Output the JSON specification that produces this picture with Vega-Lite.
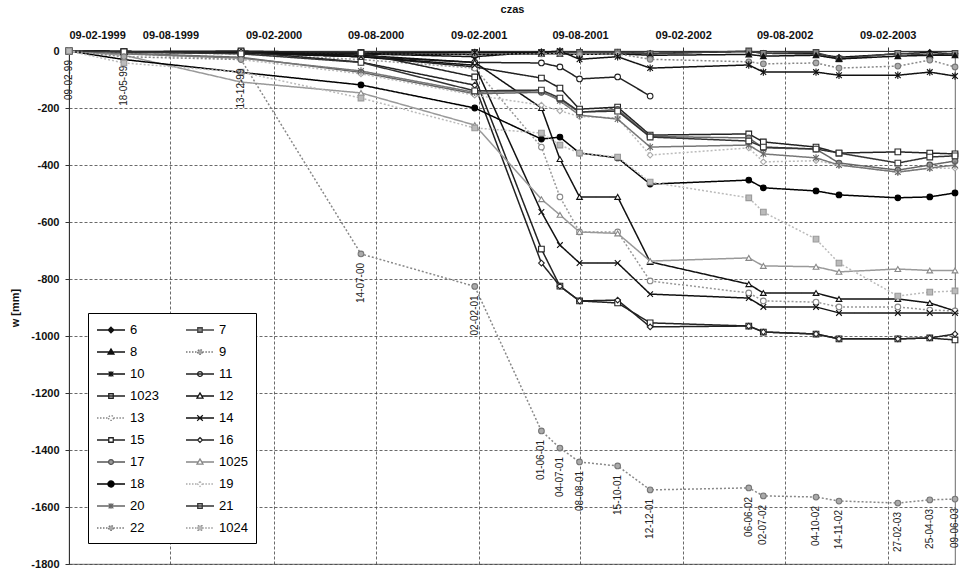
{
"$schema": "https://vega.github.io/schema/vega-lite/v6.json",
"autosize": {"type": "none"},
"width": 886,
"height": 513,
"padding": {"left": 69, "top": 51, "right": 8, "bottom": 7},
"background": "white",
"config": {
  "font": "Liberation Sans",
  "view": {"stroke": "#444", "strokeWidth": 0.8},
  "axis": {"labelFont": "Liberation Sans", "titleFont": "Liberation Sans", "labelColor": "#111", "titleColor": "#111", "labelFontSize": 11, "labelFontWeight": "bold", "titleFontSize": 11, "titleFontWeight": "bold", "grid": true, "gridDash": [3, 2], "gridColor": "#444", "gridWidth": 0.8, "domainColor": "#333", "tickColor": "#333", "tickSize": 4}
},
"data": {"values": [
{"s":"6","d":"1999-02-09","w":0},{"s":"6","d":"1999-05-18","w":-5},{"s":"6","d":"1999-12-13","w":-5},{"s":"6","d":"2000-07-14","w":-10},{"s":"6","d":"2001-02-02","w":-20},{"s":"6","d":"2001-06-01","w":-3},{"s":"6","d":"2001-07-04","w":-2},{"s":"6","d":"2001-08-08","w":-5},{"s":"6","d":"2001-10-15","w":-5},{"s":"6","d":"2001-12-12","w":-8},{"s":"6","d":"2002-06-06","w":-2},{"s":"6","d":"2002-07-02","w":-8},{"s":"6","d":"2002-10-04","w":-10},{"s":"6","d":"2002-11-14","w":-22},{"s":"6","d":"2003-02-27","w":-10},{"s":"6","d":"2003-04-25","w":-5},{"s":"6","d":"2003-06-09","w":-10},
{"s":"7","d":"1999-02-09","w":0},{"s":"7","d":"1999-05-18","w":-3},{"s":"7","d":"1999-12-13","w":-3},{"s":"7","d":"2000-07-14","w":-5},{"s":"7","d":"2001-02-02","w":-5},{"s":"7","d":"2001-06-01","w":-5},{"s":"7","d":"2001-07-04","w":-3},{"s":"7","d":"2001-08-08","w":-5},{"s":"7","d":"2001-10-15","w":-4},{"s":"7","d":"2001-12-12","w":-10},{"s":"7","d":"2002-06-06","w":0},{"s":"7","d":"2002-07-02","w":-8},{"s":"7","d":"2002-10-04","w":-5},{"s":"7","d":"2002-11-14","w":-28},{"s":"7","d":"2003-02-27","w":-8},{"s":"7","d":"2003-04-25","w":-15},{"s":"7","d":"2003-06-09","w":-8},
{"s":"8","d":"1999-02-09","w":0},{"s":"8","d":"1999-05-18","w":-2},{"s":"8","d":"1999-12-13","w":-5},{"s":"8","d":"2000-07-14","w":-10},{"s":"8","d":"2001-02-02","w":-12},{"s":"8","d":"2001-06-01","w":-10},{"s":"8","d":"2001-07-04","w":-10},{"s":"8","d":"2001-08-08","w":-12},{"s":"8","d":"2001-10-15","w":-10},{"s":"8","d":"2001-12-12","w":-15},{"s":"8","d":"2002-06-06","w":-12},{"s":"8","d":"2002-07-02","w":-18},{"s":"8","d":"2002-10-04","w":-15},{"s":"8","d":"2002-11-14","w":-28},{"s":"8","d":"2003-02-27","w":-18},{"s":"8","d":"2003-04-25","w":-15},{"s":"8","d":"2003-06-09","w":-15},
{"s":"9","d":"1999-02-09","w":0},{"s":"9","d":"1999-05-18","w":-3},{"s":"9","d":"1999-12-13","w":-5},{"s":"9","d":"2000-07-14","w":-8},{"s":"9","d":"2001-02-02","w":-10},{"s":"9","d":"2001-06-01","w":-10},{"s":"9","d":"2001-07-04","w":-8},{"s":"9","d":"2001-08-08","w":-12},{"s":"9","d":"2001-10-15","w":-10},{"s":"9","d":"2001-12-12","w":-29},{"s":"9","d":"2002-06-06","w":-38},{"s":"9","d":"2002-07-02","w":-45},{"s":"9","d":"2002-10-04","w":-42},{"s":"9","d":"2002-11-14","w":-60},{"s":"9","d":"2003-02-27","w":-53},{"s":"9","d":"2003-04-25","w":-32},{"s":"9","d":"2003-06-09","w":-56},
{"s":"10","d":"1999-02-09","w":0},{"s":"10","d":"1999-05-18","w":-3},{"s":"10","d":"1999-12-13","w":-5},{"s":"10","d":"2000-07-14","w":-8},{"s":"10","d":"2001-02-02","w":-5},{"s":"10","d":"2001-06-01","w":-5},{"s":"10","d":"2001-07-04","w":0},{"s":"10","d":"2001-08-08","w":-29},{"s":"10","d":"2001-10-15","w":-20},{"s":"10","d":"2001-12-12","w":-60},{"s":"10","d":"2002-06-06","w":-49},{"s":"10","d":"2002-07-02","w":-74},{"s":"10","d":"2002-10-04","w":-74},{"s":"10","d":"2002-11-14","w":-85},{"s":"10","d":"2003-02-27","w":-85},{"s":"10","d":"2003-04-25","w":-74},{"s":"10","d":"2003-06-09","w":-88},
{"s":"11","d":"1999-02-09","w":0},{"s":"11","d":"1999-05-18","w":-3},{"s":"11","d":"1999-12-13","w":-5},{"s":"11","d":"2000-07-14","w":-20},{"s":"11","d":"2001-02-02","w":-40},{"s":"11","d":"2001-06-01","w":-42},{"s":"11","d":"2001-07-04","w":-56},{"s":"11","d":"2001-08-08","w":-98},{"s":"11","d":"2001-10-15","w":-91},{"s":"11","d":"2001-12-12","w":-158},
{"s":"1023","d":"1999-02-09","w":0},{"s":"1023","d":"1999-05-18","w":-2},{"s":"1023","d":"1999-12-13","w":-5},{"s":"1023","d":"2000-07-14","w":-20},{"s":"1023","d":"2001-02-02","w":-56},{"s":"1023","d":"2001-06-01","w":-95},{"s":"1023","d":"2001-07-04","w":-130},{"s":"1023","d":"2001-08-08","w":-204},{"s":"1023","d":"2001-10-15","w":-197},{"s":"1023","d":"2001-12-12","w":-295},{"s":"1023","d":"2002-06-06","w":-291},{"s":"1023","d":"2002-07-02","w":-319},{"s":"1023","d":"2002-10-04","w":-337},{"s":"1023","d":"2002-11-14","w":-358},{"s":"1023","d":"2003-02-27","w":-354},{"s":"1023","d":"2003-04-25","w":-358},{"s":"1023","d":"2003-06-09","w":-361},
{"s":"12","d":"1999-02-09","w":0},{"s":"12","d":"1999-05-18","w":-2},{"s":"12","d":"1999-12-13","w":-5},{"s":"12","d":"2000-07-14","w":-15},{"s":"12","d":"2001-02-02","w":-40},{"s":"12","d":"2001-06-01","w":-200},{"s":"12","d":"2001-07-04","w":-379},{"s":"12","d":"2001-08-08","w":-512},{"s":"12","d":"2001-10-15","w":-512},{"s":"12","d":"2001-12-12","w":-740},{"s":"12","d":"2002-06-06","w":-818},{"s":"12","d":"2002-07-02","w":-849},{"s":"12","d":"2002-10-04","w":-849},{"s":"12","d":"2002-11-14","w":-870},{"s":"12","d":"2003-02-27","w":-870},{"s":"12","d":"2003-04-25","w":-884},{"s":"12","d":"2003-06-09","w":-912},
{"s":"13","d":"1999-02-09","w":0},{"s":"13","d":"1999-05-18","w":-5},{"s":"13","d":"1999-12-13","w":-10},{"s":"13","d":"2000-07-14","w":-30},{"s":"13","d":"2001-02-02","w":-60},{"s":"13","d":"2001-06-01","w":-337},{"s":"13","d":"2001-07-04","w":-512},{"s":"13","d":"2001-08-08","w":-635},{"s":"13","d":"2001-10-15","w":-635},{"s":"13","d":"2001-12-12","w":-807},{"s":"13","d":"2002-06-06","w":-849},{"s":"13","d":"2002-07-02","w":-877},{"s":"13","d":"2002-10-04","w":-881},{"s":"13","d":"2002-11-14","w":-898},{"s":"13","d":"2003-02-27","w":-898},{"s":"13","d":"2003-04-25","w":-909},{"s":"13","d":"2003-06-09","w":-912},
{"s":"14","d":"1999-02-09","w":0},{"s":"14","d":"1999-05-18","w":-3},{"s":"14","d":"1999-12-13","w":-8},{"s":"14","d":"2000-07-14","w":-20},{"s":"14","d":"2001-02-02","w":-50},{"s":"14","d":"2001-06-01","w":-565},{"s":"14","d":"2001-07-04","w":-681},{"s":"14","d":"2001-08-08","w":-744},{"s":"14","d":"2001-10-15","w":-744},{"s":"14","d":"2001-12-12","w":-853},{"s":"14","d":"2002-06-06","w":-867},{"s":"14","d":"2002-07-02","w":-898},{"s":"14","d":"2002-10-04","w":-898},{"s":"14","d":"2002-11-14","w":-919},{"s":"14","d":"2003-02-27","w":-919},{"s":"14","d":"2003-04-25","w":-919},{"s":"14","d":"2003-06-09","w":-919},
{"s":"15","d":"1999-02-09","w":0},{"s":"15","d":"1999-05-18","w":-2},{"s":"15","d":"1999-12-13","w":0},{"s":"15","d":"2000-07-14","w":-7},{"s":"15","d":"2001-02-02","w":-91},{"s":"15","d":"2001-06-01","w":-695},{"s":"15","d":"2001-07-04","w":-825},{"s":"15","d":"2001-08-08","w":-877},{"s":"15","d":"2001-10-15","w":-884},{"s":"15","d":"2001-12-12","w":-954},{"s":"15","d":"2002-06-06","w":-965},{"s":"15","d":"2002-07-02","w":-986},{"s":"15","d":"2002-10-04","w":-993},{"s":"15","d":"2002-11-14","w":-1010},{"s":"15","d":"2003-02-27","w":-1010},{"s":"15","d":"2003-04-25","w":-1007},{"s":"15","d":"2003-06-09","w":-1014},
{"s":"16","d":"1999-02-09","w":0},{"s":"16","d":"1999-05-18","w":-3},{"s":"16","d":"1999-12-13","w":-3},{"s":"16","d":"2000-07-14","w":-39},{"s":"16","d":"2001-02-02","w":-120},{"s":"16","d":"2001-06-01","w":-744},{"s":"16","d":"2001-07-04","w":-825},{"s":"16","d":"2001-08-08","w":-877},{"s":"16","d":"2001-10-15","w":-874},{"s":"16","d":"2001-12-12","w":-968},{"s":"16","d":"2002-06-06","w":-965},{"s":"16","d":"2002-07-02","w":-986},{"s":"16","d":"2002-10-04","w":-993},{"s":"16","d":"2002-11-14","w":-1010},{"s":"16","d":"2003-02-27","w":-1010},{"s":"16","d":"2003-04-25","w":-1007},{"s":"16","d":"2003-06-09","w":-993},
{"s":"17","d":"1999-02-09","w":0},{"s":"17","d":"1999-05-18","w":-8},{"s":"17","d":"1999-12-13","w":-22},{"s":"17","d":"2000-07-14","w":-75},{"s":"17","d":"2001-02-02","w":-150},{"s":"17","d":"2001-06-01","w":-145},{"s":"17","d":"2001-07-04","w":-170},{"s":"17","d":"2001-08-08","w":-215},{"s":"17","d":"2001-10-15","w":-205},{"s":"17","d":"2001-12-12","w":-300},{"s":"17","d":"2002-06-06","w":-305},{"s":"17","d":"2002-07-02","w":-340},{"s":"17","d":"2002-10-04","w":-344},{"s":"17","d":"2002-11-14","w":-393},{"s":"17","d":"2003-02-27","w":-418},{"s":"17","d":"2003-04-25","w":-400},{"s":"17","d":"2003-06-09","w":-386},
{"s":"1025","d":"1999-02-09","w":0},{"s":"1025","d":"1999-05-18","w":-15},{"s":"1025","d":"1999-12-13","w":-109},{"s":"1025","d":"2000-07-14","w":-147},{"s":"1025","d":"2001-02-02","w":-260},{"s":"1025","d":"2001-06-01","w":-520},{"s":"1025","d":"2001-07-04","w":-575},{"s":"1025","d":"2001-08-08","w":-635},{"s":"1025","d":"2001-10-15","w":-640},{"s":"1025","d":"2001-12-12","w":-737},{"s":"1025","d":"2002-06-06","w":-726},{"s":"1025","d":"2002-07-02","w":-754},{"s":"1025","d":"2002-10-04","w":-757},{"s":"1025","d":"2002-11-14","w":-775},{"s":"1025","d":"2003-02-27","w":-765},{"s":"1025","d":"2003-04-25","w":-770},{"s":"1025","d":"2003-06-09","w":-770},
{"s":"18","d":"1999-02-09","w":0},{"s":"18","d":"1999-05-18","w":-30},{"s":"18","d":"1999-12-13","w":-75},{"s":"18","d":"2000-07-14","w":-119},{"s":"18","d":"2001-02-02","w":-200},{"s":"18","d":"2001-06-01","w":-309},{"s":"18","d":"2001-07-04","w":-302},{"s":"18","d":"2001-08-08","w":-358},{"s":"18","d":"2001-10-15","w":-375},{"s":"18","d":"2001-12-12","w":-467},{"s":"18","d":"2002-06-06","w":-453},{"s":"18","d":"2002-07-02","w":-480},{"s":"18","d":"2002-10-04","w":-491},{"s":"18","d":"2002-11-14","w":-505},{"s":"18","d":"2003-02-27","w":-515},{"s":"18","d":"2003-04-25","w":-512},{"s":"18","d":"2003-06-09","w":-498},
{"s":"19","d":"1999-02-09","w":0},{"s":"19","d":"1999-05-18","w":-10},{"s":"19","d":"1999-12-13","w":-30},{"s":"19","d":"2000-07-14","w":-80},{"s":"19","d":"2001-02-02","w":-155},{"s":"19","d":"2001-06-01","w":-190},{"s":"19","d":"2001-07-04","w":-210},{"s":"19","d":"2001-08-08","w":-230},{"s":"19","d":"2001-10-15","w":-235},{"s":"19","d":"2001-12-12","w":-365},{"s":"19","d":"2002-06-06","w":-340},{"s":"19","d":"2002-07-02","w":-389},{"s":"19","d":"2002-10-04","w":-385},{"s":"19","d":"2002-11-14","w":-400},{"s":"19","d":"2003-02-27","w":-425},{"s":"19","d":"2003-04-25","w":-411},{"s":"19","d":"2003-06-09","w":-411},
{"s":"20","d":"1999-02-09","w":0},{"s":"20","d":"1999-05-18","w":-10},{"s":"20","d":"1999-12-13","w":-25},{"s":"20","d":"2000-07-14","w":-70},{"s":"20","d":"2001-02-02","w":-145},{"s":"20","d":"2001-06-01","w":-140},{"s":"20","d":"2001-07-04","w":-175},{"s":"20","d":"2001-08-08","w":-225},{"s":"20","d":"2001-10-15","w":-239},{"s":"20","d":"2001-12-12","w":-337},{"s":"20","d":"2002-06-06","w":-330},{"s":"20","d":"2002-07-02","w":-361},{"s":"20","d":"2002-10-04","w":-375},{"s":"20","d":"2002-11-14","w":-400},{"s":"20","d":"2003-02-27","w":-425},{"s":"20","d":"2003-04-25","w":-411},{"s":"20","d":"2003-06-09","w":-400},
{"s":"21","d":"1999-02-09","w":0},{"s":"21","d":"1999-05-18","w":-3},{"s":"21","d":"1999-12-13","w":-10},{"s":"21","d":"2000-07-14","w":-40},{"s":"21","d":"2001-02-02","w":-140},{"s":"21","d":"2001-06-01","w":-137},{"s":"21","d":"2001-07-04","w":-165},{"s":"21","d":"2001-08-08","w":-214},{"s":"21","d":"2001-10-15","w":-211},{"s":"21","d":"2001-12-12","w":-302},{"s":"21","d":"2002-06-06","w":-316},{"s":"21","d":"2002-07-02","w":-337},{"s":"21","d":"2002-10-04","w":-344},{"s":"21","d":"2002-11-14","w":-358},{"s":"21","d":"2003-02-27","w":-393},{"s":"21","d":"2003-04-25","w":-372},{"s":"21","d":"2003-06-09","w":-368},
{"s":"22","d":"1999-02-09","w":0,"l":"09-02-99"},{"s":"22","d":"1999-05-18","w":-20,"l":"18-05-99"},{"s":"22","d":"1999-12-13","w":-30,"l":"13-12-99"},{"s":"22","d":"2000-07-14","w":-712,"l":"14-07-00"},{"s":"22","d":"2001-02-02","w":-826,"l":"02-02-01"},{"s":"22","d":"2001-06-01","w":-1333,"l":"01-06-01"},{"s":"22","d":"2001-07-04","w":-1393,"l":"04-07-01"},{"s":"22","d":"2001-08-08","w":-1442,"l":"08-08-01"},{"s":"22","d":"2001-10-15","w":-1456,"l":"15-10-01"},{"s":"22","d":"2001-12-12","w":-1540,"l":"12-12-01"},{"s":"22","d":"2002-06-06","w":-1533,"l":"06-06-02"},{"s":"22","d":"2002-07-02","w":-1561,"l":"02-07-02"},{"s":"22","d":"2002-10-04","w":-1565,"l":"04-10-02"},{"s":"22","d":"2002-11-14","w":-1579,"l":"14-11-02"},{"s":"22","d":"2003-02-27","w":-1586,"l":"27-02-03"},{"s":"22","d":"2003-04-25","w":-1575,"l":"25-04-03"},{"s":"22","d":"2003-06-09","w":-1572,"l":"09-06-03"},
{"s":"1024","d":"1999-02-09","w":0},{"s":"1024","d":"1999-05-18","w":-42},{"s":"1024","d":"1999-12-13","w":-74},{"s":"1024","d":"2000-07-14","w":-165},{"s":"1024","d":"2001-02-02","w":-270},{"s":"1024","d":"2001-06-01","w":-288},{"s":"1024","d":"2001-07-04","w":-330},{"s":"1024","d":"2001-08-08","w":-358},{"s":"1024","d":"2001-10-15","w":-372},{"s":"1024","d":"2001-12-12","w":-460},{"s":"1024","d":"2002-06-06","w":-515},{"s":"1024","d":"2002-07-02","w":-565},{"s":"1024","d":"2002-10-04","w":-660},{"s":"1024","d":"2002-11-14","w":-744},{"s":"1024","d":"2003-02-27","w":-860},{"s":"1024","d":"2003-04-25","w":-846},{"s":"1024","d":"2003-06-09","w":-842}
]},
"encoding": {
  "x": {"field": "d", "type": "temporal",
    "scale": {"type": "utc", "domain": [{"year": 1999, "month": 2, "date": 9, "utc": true}, {"year": 2003, "month": 6, "date": 9, "utc": true}], "nice": false},
    "axis": {"orient": "top", "title": "czas", "format": "%d-%m-%Y", "labelPadding": 7, "titlePadding": 15,
      "values": [{"year": 1999, "month": 2, "date": 9, "utc": true}, {"year": 1999, "month": 8, "date": 9, "utc": true}, {"year": 2000, "month": 2, "date": 9, "utc": true}, {"year": 2000, "month": 8, "date": 9, "utc": true}, {"year": 2001, "month": 2, "date": 9, "utc": true}, {"year": 2001, "month": 8, "date": 9, "utc": true}, {"year": 2002, "month": 2, "date": 9, "utc": true}, {"year": 2002, "month": 8, "date": 9, "utc": true}, {"year": 2003, "month": 2, "date": 9, "utc": true}]}},
  "y": {"field": "w", "type": "quantitative",
    "scale": {"domain": [-1800, 0], "nice": false, "zero": false},
    "axis": {"title": "w [mm]", "values": [0, -200, -400, -600, -800, -1000, -1200, -1400, -1600, -1800], "labelExpr": "'' + datum.value", "labelPadding": 6, "titlePadding": 10}}
},
"layer": [
  {
    "mark": {"type": "line", "strokeWidth": 1.5},
    "encoding": {
      "stroke": {"field": "s", "type": "nominal", "legend": null,
        "scale": {"domain": ["6","7","8","9","10","11","1023","12","13","14","15","16","17","1025","18","19","20","21","22","1024"],
                  "range": ["#111","#444","#111","#888","#111","#222","#222","#111","#999","#111","#222","#222","#666","#999","#000","#bbb","#777","#333","#888","#bbb"]}},
      "strokeDash": {"field": "s", "type": "nominal", "legend": null,
        "scale": {"domain": ["6","7","8","9","10","11","1023","12","13","14","15","16","17","1025","18","19","20","21","22","1024"],
                  "range": [[1,0],[1,0],[1,0],[2,2],[1,0],[1,0],[1,0],[1,0],[2,2],[1,0],[1,0],[1,0],[1,0],[1,0],[1,0],[2,2],[1,0],[1,0],[2,2],[2,2]]}}
    }
  },
  {
    "mark": {"type": "point", "filled": true, "size": 32, "strokeWidth": 1.1, "opacity": 1},
    "encoding": {
      "shape": {"field": "s", "type": "nominal", "legend": null,
        "scale": {"domain": ["6","7","8","9","10","11","1023","12","13","14","15","16","17","1025","18","19","20","21","22","1024"],
                  "range": ["diamond","square","triangle-up","circle","M-1,-1L1,1M-1,1L1,-1M0,-1.3V1.3","circle","square","triangle-up","circle","M-1,-1L1,1M-1,1L1,-1","square","diamond","circle","triangle-up","circle","diamond","M-1,-1L1,1M-1,1L1,-1M0,-1.3V1.3","square","circle","square"]}},
      "fill": {"field": "s", "type": "nominal", "legend": null,
        "scale": {"domain": ["6","7","8","9","10","11","1023","12","13","14","15","16","17","1025","18","19","20","21","22","1024"],
                  "range": ["#111","#888","#111","#aaa","#111","#fff","#fff","#fff","#fff","#111","#fff","#fff","#999","#fff","#000","#fff","#777","#fff","#aaa","#bbb"]}},
      "stroke": {"field": "s", "type": "nominal", "legend": null,
        "scale": {"domain": ["6","7","8","9","10","11","1023","12","13","14","15","16","17","1025","18","19","20","21","22","1024"],
                  "range": ["#111","#444","#111","#777","#111","#222","#222","#111","#888","#111","#222","#222","#555","#888","#000","#aaa","#666","#333","#777","#999"]}}
    }
  },
  {
    "transform": [{"filter": "datum.s == '22'"}],
    "mark": {"type": "text", "angle": 270, "align": "right", "baseline": "middle", "dx": -9, "fontSize": 10, "font": "Liberation Sans", "color": "#222"},
    "encoding": {"text": {"field": "l", "type": "nominal"}}
  },
  {
    "transform": [{"filter": "datum.s == 'none'"}],
    "mark": {"type": "point", "filled": true, "opacity": 1},
    "encoding": {
      "shape": {"field": "s", "type": "nominal",
        "legend": {"title": null, "orient": "none", "legendX": 19, "legendY": 262, "columns": 2, "columnPadding": 24, "rowPadding": 6, "padding": 8, "symbolSize": 256, "symbolStrokeWidth": 1.3, "symbolOpacity": 1, "labelOffset": 16, "labelFontSize": 13, "labelFont": "Liberation Sans", "labelColor": "#000", "fillColor": "#fff", "strokeColor": "#000", "symbolLimit": 30},
        "scale": {"domain": ["6","8","10","1023","13","15","17","18","20","22","7","9","11","12","14","16","1025","19","21","1024"],
                  "range": [
                    "M-1,0H0.4M1.1,0H2.5M0.75,-0.35L1.1,0L0.75,0.35L0.4,0Z",
                    "M-1,0H0.53M0.97,0H2.5M0.75,-0.38L1.12,0.26H0.38Z",
                    "M-1,0H2.5M0.45,-0.3L1.05,0.3M0.45,0.3L1.05,-0.3M0.75,-0.35V0.35",
                    "M-1,0H2.5M0.47,-0.28H1.03V0.28H0.47Z",
                    "M-1,0H0.45M1.05,0H2.5M0.45,0A0.3,0.3 0 1,0 1.05,0A0.3,0.3 0 1,0 0.45,0Z",
                    "M-1,0H0.47M1.03,0H2.5M0.47,-0.28H1.03V0.28H0.47Z",
                    "M-1,0H0.45M1.05,0H2.5M0.45,0A0.3,0.3 0 1,0 1.05,0A0.3,0.3 0 1,0 0.45,0Z",
                    "M-1,0H0.37M1.13,0H2.5M0.37,0A0.38,0.38 0 1,0 1.13,0A0.38,0.38 0 1,0 0.37,0Z",
                    "M-1,0H2.5M0.45,-0.3L1.05,0.3M0.45,0.3L1.05,-0.3M0.75,-0.35V0.35",
                    "M-1,0H0.45M1.05,0H2.5M0.45,0A0.3,0.3 0 1,0 1.05,0A0.3,0.3 0 1,0 0.45,0Z",
                    "M-1,0H0.47M1.03,0H2.5M0.47,-0.28H1.03V0.28H0.47Z",
                    "M-1,0H0.45M1.05,0H2.5M0.45,0A0.3,0.3 0 1,0 1.05,0A0.3,0.3 0 1,0 0.45,0Z",
                    "M-1,0H2.5M0.45,0A0.3,0.3 0 1,0 1.05,0A0.3,0.3 0 1,0 0.45,0Z",
                    "M-1,0H0.53M0.97,0H2.5M0.75,-0.38L1.12,0.26H0.38Z",
                    "M-1,0H2.5M0.4,-0.35L1.1,0.35M0.4,0.35L1.1,-0.35",
                    "M-1,0H0.45M1.05,0H2.5M0.75,-0.3L1.05,0L0.75,0.3L0.45,0Z",
                    "M-1,0H0.53M0.97,0H2.5M0.75,-0.38L1.12,0.26H0.38Z",
                    "M-1,0H0.45M1.05,0H2.5M0.75,-0.3L1.05,0L0.75,0.3L0.45,0Z",
                    "M-1,0H2.5M0.47,-0.28H1.03V0.28H0.47Z",
                    "M-1,0H0.47M1.03,0H2.5M0.47,-0.28H1.03V0.28H0.47Z"
                  ]}},
      "fill": {"field": "s", "type": "nominal",
        "scale": {"domain": ["6","8","10","1023","13","15","17","18","20","22","7","9","11","12","14","16","1025","19","21","1024"],
                  "range": ["#111","#111","#111","#fff","#fff","#fff","#999","#000","#777","#aaa","#888","#aaa","#fff","#fff","#111","#fff","#fff","#fff","#fff","#bbb"]}},
      "stroke": {"field": "s", "type": "nominal",
        "scale": {"domain": ["6","8","10","1023","13","15","17","18","20","22","7","9","11","12","14","16","1025","19","21","1024"],
                  "range": ["#111","#111","#111","#222","#888","#222","#555","#000","#666","#777","#444","#777","#222","#111","#111","#222","#888","#aaa","#333","#999"]}},
      "strokeDash": {"field": "s", "type": "nominal",
        "scale": {"domain": ["6","8","10","1023","13","15","17","18","20","22","7","9","11","12","14","16","1025","19","21","1024"],
                  "range": [[1,0],[1,0],[1,0],[1,0],[1.5,1.5],[1,0],[1,0],[1,0],[1,0],[1.5,1.5],[1,0],[1.5,1.5],[1,0],[1,0],[1,0],[1,0],[1,0],[1.5,1.5],[1,0],[1.5,1.5]]}}
    }
  }
],
"resolve": {"scale": {"shape": "independent", "fill": "independent", "stroke": "independent", "strokeDash": "independent"}}
}
